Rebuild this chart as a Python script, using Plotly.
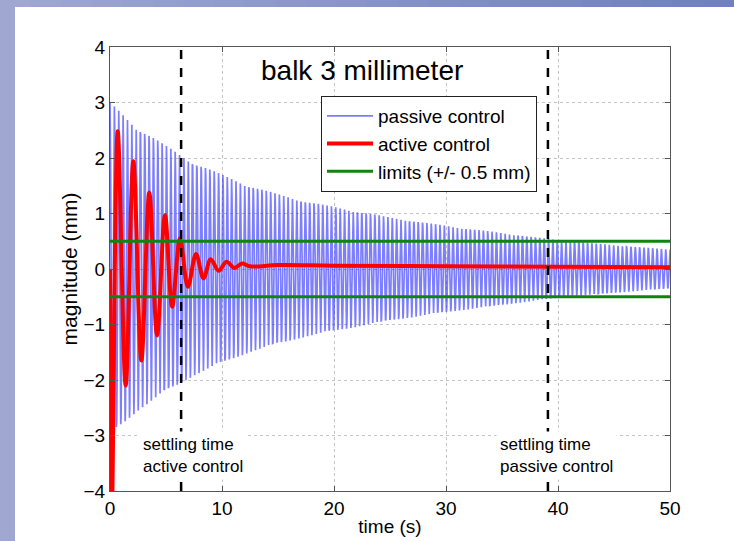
import numpy as np
import plotly.graph_objects as go

# ---- data ----
# passive control: envelope amplitude (mm) read at these times (s), carrier freq read from line spacing
passive_env_t = [0, 2.5, 5, 7.5, 10, 12.5, 15, 17.5, 20, 25, 30, 35, 40, 45, 50]
passive_env_amp = [3.0, 2.55, 2.22, 1.92, 1.70, 1.50, 1.35, 1.22, 1.12, 0.93, 0.78, 0.65, 0.52, 0.43, 0.35]
passive_freq_hz = 2.58
passive_dt = 0.03

# active control: extrema (s, mm)
active_t = [0, 0.15, 0.69, 1.40, 2.08, 2.80, 3.51, 4.20, 4.91, 5.55, 6.25, 6.95, 7.68, 8.35, 8.99,
            9.70, 10.4, 11.1, 11.8, 12.5, 15, 20, 30, 40, 50]
active_v = [0, -4.6, 2.48, -2.1, 1.94, -1.65, 1.38, -1.2, 0.97, -0.68, 0.55, -0.32, 0.27, -0.17, 0.175,
            -0.03, 0.13, 0.02, 0.10, 0.05, 0.07, 0.06, 0.05, 0.04, 0.03]

limit_mm = 0.5
settling_active = 6.35
settling_passive = 39.1

x_ticks = [0, 10, 20, 30, 40, 50]
y_ticks = [-4, -3, -2, -1, 0, 1, 2, 3, 4]

# ---- build passive trace ----
pt = np.arange(0, 50 + passive_dt / 2, passive_dt)
penv = np.interp(pt, passive_env_t, passive_env_amp)
py = penv * np.cos(2 * np.pi * passive_freq_hz * pt)

FONT = "Liberation Sans, Arial, sans-serif"

fig = go.Figure()
fig.add_trace(go.Scatter(x=pt, y=py, mode="lines", name="passive control",
                         line=dict(color="rgba(45,45,255,0.62)", width=1.7)))
fig.add_trace(go.Scatter(x=active_t, y=active_v, mode="lines", name="active control",
                         line=dict(color="#ff0000", width=4, shape="spline", smoothing=1.0)))
fig.add_trace(go.Scatter(x=[0, 50, None, 0, 50], y=[limit_mm, limit_mm, None, -limit_mm, -limit_mm],
                         mode="lines", name="limits (+/- 0.5 mm)",
                         line=dict(color="#0f850f", width=2.8)))

# plot area px: x 110..670, y 47..491
L, R, T, B = 110, 64, 47, 50
W, H = 734, 541
pw, ph = W - L - R, H - T - B

def px2paper_x(px):
    return (px - L) / pw

def px2paper_y(py_):
    return (H - B - py_) / ph

shapes = []
# slide frame: left band and gradient top band
shapes.append(dict(type="rect", xref="paper", yref="paper",
                   x0=px2paper_x(0), x1=px2paper_x(15), y0=px2paper_y(H), y1=px2paper_y(0),
                   fillcolor="#a0a8d2", line=dict(width=0), layer="below"))
nseg = 24
c0 = np.array([160, 168, 210])
c1 = np.array([112, 128, 192])
for i in range(nseg):
    f = i / (nseg - 1)
    c = (c0 * (1 - f) + c1 * f).astype(int)
    shapes.append(dict(type="rect", xref="paper", yref="paper",
                       x0=px2paper_x(W * i / nseg), x1=px2paper_x(W * (i + 1) / nseg + 1),
                       y0=px2paper_y(7), y1=px2paper_y(0),
                       fillcolor="rgb(%d,%d,%d)" % tuple(c), line=dict(width=0), layer="below"))
# settling time dashed lines
for xs in (settling_active, settling_passive):
    shapes.append(dict(type="line", xref="x", yref="y", x0=xs, x1=xs, y0=-4, y1=4,
                       line=dict(color="black", width=2.5, dash="dash"), layer="above"))

annotations = [
    dict(x=22.5, y=3.58, xref="x", yref="y", text="balk 3 millimeter", showarrow=False,
         font=dict(family=FONT, size=28, color="black")),
    dict(x=2.6, y=-3.36, xref="x", yref="y", text="settling time<br>active control", showarrow=False,
         xanchor="left", align="left", bgcolor="white", borderpad=3,
         font=dict(family=FONT, size=17, color="black")),
    dict(x=34.5, y=-3.36, xref="x", yref="y", text="settling time<br>passive control", showarrow=False,
         xanchor="left", align="left", bgcolor="white", borderpad=3,
         font=dict(family=FONT, size=17, color="black")),
]

axis_common = dict(showline=True, linecolor="#555555", linewidth=1, mirror="ticks",
                   ticks="inside", ticklen=5, tickcolor="#555555",
                   showgrid=True, gridcolor="#c4c4c4", griddash="dot", gridwidth=1,
                   zeroline=False, automargin=False,
                   tickfont=dict(family=FONT, size=19, color="black"))

fig.update_layout(
    width=W, height=H, margin=dict(l=L, r=R, t=T, b=B, autoexpand=False),
    paper_bgcolor="white", plot_bgcolor="white",
    font=dict(family=FONT, color="black"),
    xaxis=dict(range=[0, 50], tickvals=x_ticks, **axis_common,
               title=dict(text="time (s)", font=dict(family=FONT, size=19), standoff=1)),
    yaxis=dict(range=[-4, 4], tickvals=y_ticks, **axis_common,
               title=dict(text="magnitude (mm)", font=dict(family=FONT, size=21), standoff=0)),
    legend=dict(x=px2paper_x(321), y=px2paper_y(96), xanchor="left", yanchor="top",
                bgcolor="white", bordercolor="#222222", borderwidth=1, itemwidth=46,
                font=dict(family=FONT, size=19, color="black"), tracegroupgap=0),
    shapes=shapes, annotations=annotations, showlegend=True,
)

fig.write_html("out.html", config={"displayModeBar": False},
               post_script="document.body.style.margin='0';document.body.style.overflow='hidden';")
